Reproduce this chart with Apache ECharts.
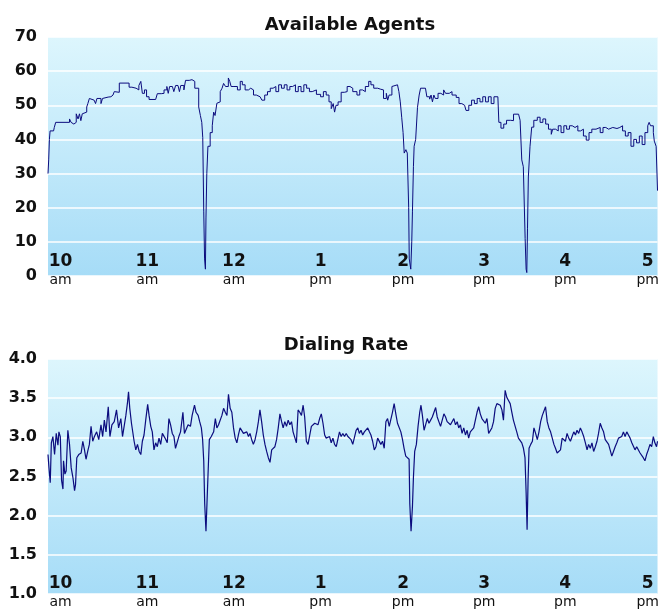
<!DOCTYPE html>
<html>
<head>
<meta charset="utf-8">
<script src="https://cdn.jsdelivr.net/npm/echarts@6/dist/echarts.min.js"></script>
<style>
  html, body { margin: 0; padding: 0; background: #fff; }
  #main { width: 662px; height: 609px; }
</style>
</head>
<body>
<div id="main"></div>
<script>
// x values are minutes after 10:00 am
var hourLabels = ['10', '11', '12', '1', '2', '3', '4', '5'];
var ampmLabels = ['am', 'am', 'am', 'pm', 'pm', 'pm', 'pm', 'pm'];
// where the hour labels sit on the time scale
var hourMinutes = [0, 62, 124, 186, 245, 303, 361, 420];

var agentMinutes = [-9,-8.5,-8,-7.5,-5,-4.5,-3.5,6.4,7.5,8.3,9.5,11.2,12.5,13.5,14.5,15.5,16.5,18.7,19.5,20.6,22,24,25,26,28.9,30,31.3,34,36,37.5,38.4,39.5,42,49,51,54,56,57.4,58.5,60,61.5,63.3,68,69.2,72,74,76,77,78,80,81,82.3,84,85,86,88.2,89.4,92,94,96,98.8,100,101,101.7,102.4,103,103.6,104,104.6,105.4,107,108.5,109.5,110.5,111.8,113,114.2,115.5,116.6,118,120,121,122,124,125,126.5,128.5,130,132,134.4,136,138,140,142.7,144,146,148,150,152,154,156,158,160,162,164,166,168,170,172,174,176,178,180,183,186,188,190,192,193.6,195,196,197,198.5,200.7,203,205,207,209,212,214,216,218,220.4,222,224,226.8,229,231,233,234,235,237,238,241,242,243,244,245,245.8,247,248,249,249.4,250.5,251.2,251.7,252.4,252.9,254,255.3,256.5,257.5,261,262,264,265,266,267,268,270,272,274,275.4,278,280,283,285,287,289,290,292,294,296,298,300,302,304,306,308,310,312.8,313.5,315,317,319,322,324,327.6,328.7,329.9,331,332.3,333,333.5,334,334.6,335.8,337,338.5,341,343,345,347,349,351,352,354,356,358,360,362,364,366,368,370,372,374,376,378,380,383,386,388,390,392,395,398,400,402,404,406,408,410,412,414,416,418,420,421,422,424,424.7,426,427];
var agentValues = [30,34,40,42.5,42,43.5,45,46,45,44.5,45,47.5,46,47.5,45.5,47.5,48,49.5,50.5,52,51.5,52,50.5,52,50.5,52,52.4,52.5,53,53.5,54,53.8,56.5,55.3,55,54.5,55.8,57,53.5,54.5,52.5,51.7,51.7,53.4,53.5,54.5,55.5,53.5,55.5,56,54,55.8,56,54,55.8,54.5,57.3,57.5,57,55,49.5,47,45,40.5,19,5,2,17,30,38,42,44,48,47,50.6,51,54,55,56.4,55.5,58,57,55.5,56,55.5,54.5,57,56,54.5,55,54.5,53,52.5,53,51.5,53,54,55,55.5,54,56,55,56,54.5,55.5,56,54,55.5,54,56,55,54,54.5,53.2,52.5,54,53,51,49,50.5,48,50,51,53.8,54,55.5,55,54,53,54.5,54,55.5,57,56,55,54.7,54.5,52,53.5,51.5,53,55.5,56,56,54,51,46.5,42,36,37,36,20,5,2,10,19,32,38,40,49.4,53,55,54.5,52.5,51.8,53,51,53,52,53.5,53,54.5,53.5,54,53,52.3,50.5,50,49.5,48.5,50,51.5,50.5,52,51,52.5,51,52.5,50.5,52.5,52.5,45,43.3,44.5,45.6,45.5,47.4,47.4,45.6,34,32,11,2,1,14,29,38,43.6,45.6,46.5,45,46,44.5,43,41.5,43,42.5,44,42,44,43,44,43.5,44,42.5,43,41,39.8,42,43,43.5,42,43.5,43,43.5,43.2,43.5,44,42.5,41,42,38,40,39,41,38.5,42,44,45,44,42,39.5,38,25];

var rateMinutes = [-9,-8.3,-7.4,-6.6,-5.5,-4.3,-3.1,-1.9,-1.2,-0.2,0.7,1.7,2.1,3.1,4,5.2,6.4,7.6,8.8,10,10.7,11.6,13,14.7,15.9,17.1,18.2,19.4,20.6,21.8,23,24.2,25.8,27.3,28.9,30.1,31.3,32.5,34.1,35.3,36.7,38.4,40,41.5,43.1,44.3,45.5,46.7,47.9,48.6,49.5,50.7,51.4,52.6,53.8,55,56.2,57.4,58.5,59.7,60.9,62.3,63.3,64.5,65.6,66.8,68,69.2,70.4,71.6,72.8,74.7,76.3,77.5,78.7,79.9,81.1,82.2,83.4,84.6,85.8,87.5,88.6,89.8,91.2,92.9,94.1,95.8,96.9,98.4,99.5,100.7,101.6,102.4,103.1,104,104.7,105.4,106.4,107.8,109.5,110.7,111.8,113,114.2,115.4,116.6,117.8,119,120.1,121.3,122.5,123.7,124.9,126.1,127.2,128.4,129.6,130.8,132,133.2,134.4,135.5,136.7,137.9,139.1,140.3,141.5,142.6,143.8,145,146.2,147.4,148.6,149.8,151,152.1,153.3,154.5,155.7,156.9,158.1,159.2,160.4,161.6,162.8,164,165.2,166.3,167.5,168.7,169.9,171.1,172.3,173.5,174.6,175.8,177,178.2,179.4,180.6,181.8,182.9,184.1,185.3,186.5,187.7,188.9,190,191.2,192.4,193.6,194.8,196,197.2,198.3,199.5,200.7,201.9,203.1,204.3,205.5,206.6,207.8,209,210.2,211.4,212.6,213.7,214.9,216.1,217.3,218.5,219.7,220.9,222,223.2,224.4,225.6,226.8,228,229.1,230.3,231.5,232.7,233.9,235.1,236.3,237.4,238.6,239.8,241,242.2,243.4,244.6,245.7,246.9,248.1,249.3,249.8,250.7,251.7,252.4,253.3,254.5,255.7,256.9,257.8,258.8,260,261.1,262.3,263.5,264.7,265.9,267.1,268.3,269.4,270.6,271.8,273,274.2,275.4,276.5,277.7,278.9,280.1,281.3,282.5,283.7,284.8,286,287.2,288.4,289.6,290.8,291.9,293.1,294.3,295.5,296.7,297.9,299.1,300.2,301.4,302.6,303.8,305,306.2,307.4,308.5,309.7,310.9,312.1,313.3,314.5,315.7,316.8,318,319.2,320.4,321.6,322.8,323.9,325.1,326.3,327.5,328.7,329.9,331.1,332.2,333,333.7,334.4,335.1,336.3,337.5,338.6,339.8,341,342.2,343.4,344.6,345.7,346.9,348.1,349.3,350.5,351.7,352.9,354,355.2,356.4,357.6,358.8,360,361.1,362.3,363.5,364.7,365.9,367.1,368.3,369.4,370.6,371.8,373,374.2,375.4,376.6,377.7,378.9,380.1,381.3,382.5,383.7,384.8,386,387.2,388.4,389.6,390.8,392,393.1,394.3,395.5,396.7,397.9,399.1,400.3,401.4,402.6,403.8,405,406.2,407.4,408.6,409.7,410.9,412.1,413.3,414.5,415.7,416.8,418,419.2,420.4,421.6,422.8,424,425.1,426.3,427];
var rateValues = [2.78,2.61,2.42,2.93,3.01,2.78,3.05,2.9,3.07,3.01,2.45,2.34,2.7,2.53,2.57,3.09,2.91,2.61,2.49,2.32,2.4,2.74,2.78,2.8,2.95,2.84,2.72,2.82,2.91,3.14,2.95,3.01,3.07,2.97,3.16,3.01,3.22,3.07,3.39,3.01,3.16,3.2,3.35,3.12,3.24,3.01,2.99,3.28,3.45,3.58,3.37,3.18,3.16,2.95,2.84,2.91,2.82,2.78,2.95,3.03,3.22,3.42,3.28,3.14,3.07,2.84,2.93,2.88,2.99,2.91,3.05,2.99,2.93,3.24,3.16,3.05,3.01,2.86,2.84,3.01,3.07,3.32,3.05,3.03,3.16,3.14,3.28,3.41,3.32,3.28,3.2,3.12,2.97,2.7,2.15,1.8,2.15,2.49,2.97,3.01,3.07,3.24,3.12,3.16,3.18,3.28,3.37,3.32,3.28,3.55,3.37,3.32,3.12,2.99,2.93,3.03,3.12,3.14,3.05,3.03,3.07,3.01,3.05,2.97,2.91,2.97,3.07,3.2,3.35,3.2,3.03,2.91,2.82,2.74,2.68,2.84,2.82,2.88,2.97,3.12,3.3,3.2,3.12,3.2,3.14,3.22,3.16,3.2,3.07,3.05,2.93,3.35,3.32,3.28,3.41,3.26,2.95,2.91,2.91,3.14,3.16,3.18,3.2,3.16,3.24,3.3,3.18,3.03,2.99,2.97,3.01,2.93,2.99,2.91,2.88,2.86,3.07,3.01,3.05,3.01,3.05,3.01,2.99,2.97,2.91,2.93,3.09,3.12,3.05,3.09,3.03,3.07,3.05,3.12,3.07,3.03,2.95,2.84,2.88,2.99,2.97,2.91,2.95,2.86,3.2,3.24,3.14,3.16,3.32,3.43,3.3,3.18,3.2,3.07,2.97,2.86,2.76,2.78,2.72,2.15,1.8,2.12,2.49,2.82,2.91,3.14,3.32,3.41,3.28,3.09,3.16,3.24,3.18,3.22,3.26,3.32,3.38,3.26,3.24,3.14,3.16,3.3,3.26,3.2,3.22,3.16,3.14,3.24,3.16,3.2,3.12,3.16,3.05,3.12,3.03,3.09,2.99,3.07,3.05,3.12,3.14,3.32,3.39,3.3,3.24,3.26,3.18,3.24,3.05,3.03,3.12,3.2,3.37,3.43,3.45,3.41,3.35,3.22,3.6,3.51,3.47,3.43,3.32,3.22,3.2,3.07,2.99,3.01,2.93,2.86,2.74,2.3,1.82,2.45,2.86,2.91,2.95,3.12,3.05,2.97,3.07,3.2,3.28,3.3,3.39,3.2,3.12,3.07,2.99,2.91,2.86,2.8,2.78,2.84,2.99,3.01,2.95,3.05,2.99,2.95,3.01,3.07,3.03,3.09,3.05,3.12,3.07,3.01,2.93,2.84,2.91,2.86,2.93,2.82,2.88,2.95,3.05,3.18,3.12,3.07,2.97,2.95,2.91,2.84,2.76,2.82,2.88,2.93,2.99,2.97,3.01,3.07,3.01,3.07,3.03,2.99,2.93,2.91,2.84,2.88,2.86,2.8,2.82,2.74,2.7,2.78,2.84,2.91,2.88,3.01,2.93,2.88,2.95];

var agentData = agentMinutes.map(function (m, i) { return [m, agentValues[i]]; });
var rateData = rateMinutes.map(function (m, i) { return [m, rateValues[i]]; });

var chart = echarts.init(document.getElementById('main'));
var font = 'DejaVu Sans, Verdana, sans-serif';
var lineColor = '#0c0c7e';

function plotBg() {
    return new echarts.graphic.LinearGradient(0, 0, 0, 1, [
        {offset: 0, color: '#ddf6fd'},
        {offset: 1, color: '#a6dcf7'}
    ]);
}

function timeAxis(gridIndex, labelMargin) {
    return {
        type: 'value',
        gridIndex: gridIndex,
        min: -9,
        max: 427,
        axisLine: {show: false},
        axisTick: {show: false},
        splitLine: {show: false},
        axisLabel: {
            customValues: hourMinutes,
            margin: labelMargin,
            formatter: function (v) {
                var i = hourMinutes.indexOf(v);
                return '{h|' + hourLabels[i] + '}\n{a|' + ampmLabels[i] + '}';
            },
            rich: {
                h: {fontFamily: font, fontWeight: 'bold', fontSize: 17, lineHeight: 18, color: '#111', align: 'center'},
                a: {fontFamily: font, fontSize: 14, lineHeight: 18, color: '#111', align: 'center'}
            }
        }
    };
}

function valueAxis(gridIndex, min, max, step, digits) {
    return {
        type: 'value',
        gridIndex: gridIndex,
        min: min,
        max: max,
        interval: step,
        axisLine: {show: false},
        axisTick: {show: false},
        splitLine: {lineStyle: {color: '#ffffff', width: 1.5}},
        axisLabel: {
            margin: 11,
            fontFamily: font,
            fontWeight: 'bold',
            fontSize: 16,
            color: '#111',
            formatter: function (v) { return v.toFixed(digits); }
        }
    };
}

var option = {
    animation: false,
    backgroundColor: '#fff',
    title: [
        {text: 'Available Agents', left: 345, top: 11, textAlign: 'center',
         textStyle: {fontFamily: font, fontWeight: 'bold', fontSize: 18, color: '#111'}},
        {text: 'Dialing Rate', left: 341, top: 331, textAlign: 'center',
         textStyle: {fontFamily: font, fontWeight: 'bold', fontSize: 18, color: '#111'}}
    ],
    grid: [
        {left: 48, right: 0, top: 37, height: 239, show: true, borderWidth: 0, backgroundColor: plotBg()},
        {left: 48, right: 0, top: 359, height: 239, show: true, borderWidth: 0, backgroundColor: plotBg()}
    ],
    xAxis: [timeAxis(0, -23), timeAxis(1, -19)],
    yAxis: [valueAxis(0, 0, 70, 10, 0), valueAxis(1, 1, 4, 0.5, 1)],
    series: [
        {
            name: 'Available Agents',
            type: 'line',
            xAxisIndex: 0,
            yAxisIndex: 0,
            data: agentData,
            step: 'end',
            showSymbol: false,
            lineStyle: {color: lineColor, width: 1}
        },
        {
            name: 'Dialing Rate',
            type: 'line',
            xAxisIndex: 1,
            yAxisIndex: 1,
            data: rateData,
            showSymbol: false,
            lineStyle: {color: lineColor, width: 1.2}
        }
    ]
};
chart.setOption(option);
</script>
</body>
</html>
